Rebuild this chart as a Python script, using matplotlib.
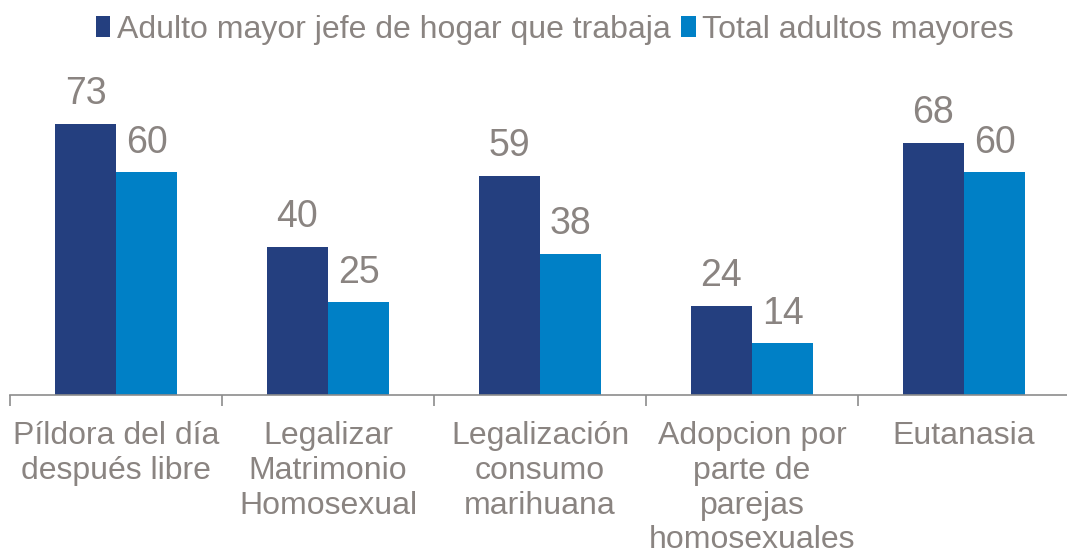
import numpy as np
import matplotlib.pyplot as plt

categories = ["Píldora del día\ndespués libre", "Legalizar\nMatrimonio\nHomosexual",
              "Legalización\nconsumo\nmarihuana", "Adopcion por\nparte de\nparejas\nhomosexuales",
              "Eutanasia"]
jefe = [73, 40, 59, 24, 68]
total = [60, 25, 38, 14, 60]
series_names = ["Adulto mayor jefe de hogar que trabaja", "Total adultos mayores"]

navy = "#243F7F"
blue = "#0080C6"
grey = "#8A8481"

plt.rcParams["font.family"] = ["Liberation Sans", "DejaVu Sans"]

fig = plt.figure(figsize=(10.67, 5.57), dpi=100)
ax = fig.add_axes([10 / 1067, 162 / 557, 1060 / 1067, 297 / 557])

x = np.arange(len(categories))
w = 0.288
b1 = ax.bar(x - w / 2, jefe, w, color=navy, label=series_names[0])
b2 = ax.bar(x + w / 2, total, w, color=blue, label=series_names[1])

# value labels above each bar
for bars, vals in [(b1, jefe), (b2, total)]:
    for r, v in zip(bars, vals):
        ax.text(r.get_x() + r.get_width() / 2, v + 3.1, str(v), ha="center", va="bottom",
                fontsize=27, color=grey)

ax.set_xlim(-0.5, len(categories) - 0.5)
ax.set_ylim(0, 80)
ax.set_yticks([])
for s in ["top", "right", "left"]:
    ax.spines[s].set_visible(False)
ax.spines["bottom"].set_color("#8C8C8C")
ax.spines["bottom"].set_linewidth(1.2)

# ticks between categories, labels centred under groups
ax.set_xticks(np.arange(len(categories) + 1) - 0.5, minor=False)
ax.set_xticklabels([])
ax.tick_params(axis="x", which="major", length=8, width=1.2, color="#8C8C8C")
ax.set_xticks(x, minor=True)
ax.set_xticklabels(categories, minor=True, fontsize=23, color=grey, linespacing=1.2, va="top")
ax.tick_params(axis="x", which="minor", length=0, pad=19)

fig.legend(loc="upper center", bbox_to_anchor=(0.52, 1.025), ncol=2, frameon=False,
           prop={"size": 23}, labelcolor=grey, handlelength=0.45,
           handleheight=0.65, handletextpad=0.2, columnspacing=0.35)

fig.savefig("out.png", dpi=100)
